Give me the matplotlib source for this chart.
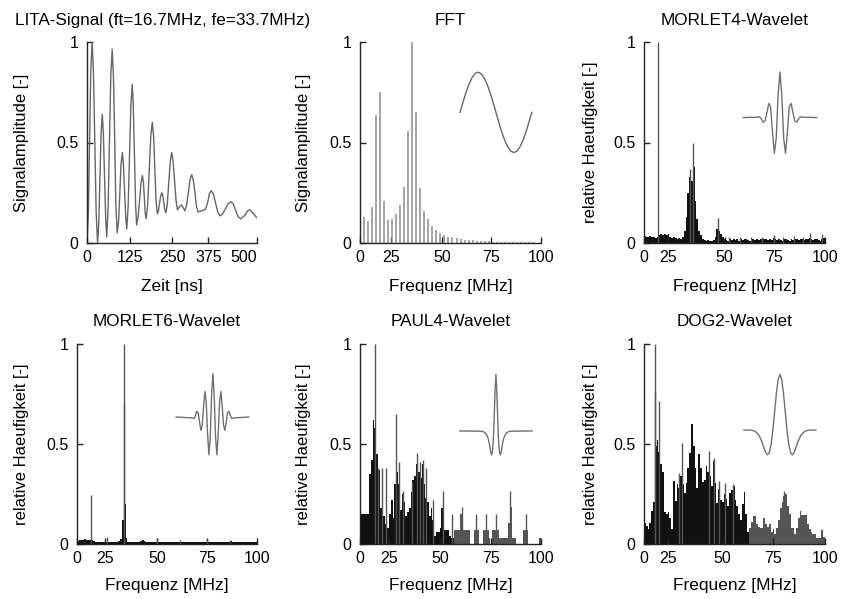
import matplotlib.pyplot as plt
import numpy as np

plt.rcParams['font.family'] = ['Liberation Sans', 'DejaVu Sans']

# --- LITA signal (time in ns, normalised amplitude)
sig_t = [0, 4, 7.5, 11, 15, 19, 23, 27, 31, 34.5, 38, 41.5, 45, 48, 51.5, 55, 58,
         62, 66, 70, 74, 78, 81.5, 85, 89, 93, 96.5, 100, 104, 107, 110.5, 114, 117,
         121, 125, 129, 133, 136, 139.5, 143, 146, 150, 154.5, 159, 163, 166, 168.5,
         171, 174, 178.5, 183, 187.5, 192, 196, 199.5, 203, 207, 210, 213.5, 217, 220,
         223, 226, 229, 232, 236, 240.5, 245, 249, 253, 257.5, 262, 266, 272, 278, 283,
         288, 293, 298, 303, 308, 313, 317.5, 322, 327, 337, 347, 351, 356, 360, 365,
         371.5, 378, 384.5, 391, 399, 407, 415, 423, 430, 437.5, 445, 452, 459, 465.5,
         472, 479, 489.5, 500]
sig_y = [0.00, 0.15, 0.50, 0.85, 1.00, 0.85, 0.50, 0.15, 0.00, 0.09, 0.32, 0.55, 0.64,
         0.55, 0.335, 0.12, 0.03, 0.17, 0.50, 0.83, 0.965, 0.82, 0.51, 0.18, 0.05, 0.11,
         0.25, 0.39, 0.45, 0.395, 0.26, 0.125, 0.07, 0.18, 0.43, 0.685, 0.79, 0.69, 0.44,
         0.19, 0.09, 0.125, 0.21, 0.30, 0.335, 0.30, 0.23, 0.15, 0.12, 0.19, 0.36, 0.53,
         0.60, 0.53, 0.37, 0.21, 0.145, 0.16, 0.20, 0.235, 0.25, 0.235, 0.20, 0.165, 0.15,
         0.19, 0.30, 0.405, 0.45, 0.41, 0.31, 0.21, 0.165, 0.18, 0.19, 0.175, 0.16, 0.19,
         0.25, 0.315, 0.34, 0.31, 0.25, 0.18, 0.155, 0.16, 0.165, 0.18, 0.21, 0.245, 0.26,
         0.245, 0.20, 0.155, 0.135, 0.145, 0.17, 0.195, 0.205, 0.195, 0.16, 0.13, 0.12,
         0.13, 0.14, 0.16, 0.165, 0.145, 0.125]

# --- FFT lines
fft_f = [2.40, 4.61, 6.83, 9.04, 11.25, 13.47, 15.68, 17.90, 20.11, 22.32, 24.54, 26.75,
         28.97, 31.18, 33.39, 35.61, 37.82, 40.04, 42.25, 44.46, 46.68, 48.89, 51.10,
         53.32, 55.53, 57.75, 59.96, 62.17, 64.39, 66.60, 68.82, 71.03, 73.24, 75.46,
         77.67, 79.88, 82.10, 84.31, 86.53, 88.74, 90.95, 93.17, 95.38]
fft_a = [0.13, 0.11, 0.18, 0.635, 0.75, 0.21, 0.115, 0.12, 0.145, 0.19, 0.28, 0.555,
         1.0, 0.65, 0.275, 0.16, 0.12, 0.085, 0.065, 0.05, 0.04, 0.03, 0.028, 0.023,
         0.02, 0.017, 0.015, 0.013, 0.012, 0.01, 0.009, 0.008, 0.007, 0.007, 0.006,
         0.006, 0.005, 0.005, 0.004, 0.004, 0.004, 0.003, 0.003]
sine_x = [55.3, 56.95, 58.6, 60.25, 61.9, 63.55, 65.2, 66.85, 68.5, 70.15, 71.8, 73.45,
          75.1, 76.75, 78.4, 80.05, 81.7, 83.35, 85.0, 86.65, 88.3, 89.95, 91.6, 93.25, 94.9]
sine_y = [0.65, 0.702, 0.75, 0.791, 0.823, 0.843, 0.85, 0.843, 0.823, 0.791, 0.75, 0.702,
          0.65, 0.598, 0.55, 0.509, 0.477, 0.457, 0.45, 0.457, 0.477, 0.509, 0.55, 0.598, 0.65]

# --- MORLET4 histogram (1 MHz bins) + single spikes
m4_h = [0.035, 0.03, 0.03, 0.035, 0.03, 0.03, 0.025, 0.03, 0.04, 0.045, 0.04, 0.045, 0.04,
        0.045, 0.03, 0.025, 0.03, 0.025, 0.02, 0.025, 0.02, 0.03, 0.06, 0.13, 0.25, 0.33,
        0.31, 0.38, 0.21, 0.12, 0.06, 0.04, 0.02, 0.015, 0.01, 0.015, 0.01, 0.012, 0.015,
        0.03, 0.07, 0.06, 0.045, 0.03, 0.02, 0.015, 0.012, 0.018, 0.015, 0.02, 0.015, 0.018,
        0.012, 0.02, 0.015, 0.018, 0.02, 0.015, 0.012, 0.02, 0.018, 0.015, 0.02, 0.015,
        0.018, 0.012, 0.02, 0.018, 0.015, 0.02, 0.015, 0.025, 0.018, 0.015, 0.02, 0.015,
        0.012, 0.018, 0.02, 0.015, 0.012, 0.018, 0.015, 0.02, 0.018, 0.015, 0.02, 0.018,
        0.015, 0.02, 0.018, 0.025, 0.02, 0.015, 0.018, 0.02, 0.015, 0.012, 0.02, 0.025]
m4_sx = [7.75, 25.2, 27.1, 41.0, 47.0, 53.0, 59.0, 65.0, 71.8, 77.0, 83.0, 88.0, 91.7, 98.5]
m4_sy = [1.0, 0.367, 0.496, 0.126, 0.03, 0.03, 0.032, 0.03, 0.04, 0.03, 0.035, 0.03, 0.05, 0.045]
m4_wx = [54.8, 62.78, 63.8, 64.83, 65.86, 66.88, 67.91, 68.94, 69.97, 70.99, 72.02, 73.05,
         74.07, 75.1, 76.13, 77.15, 78.18, 79.21, 80.24, 81.26, 82.29, 83.32, 84.34, 85.37,
         86.4, 87.42, 95.4]
m4_wy = [0.624, 0.626, 0.628, 0.617, 0.601, 0.608, 0.648, 0.694, 0.677, 0.551, 0.446, 0.522,
         0.735, 0.851, 0.735, 0.522, 0.446, 0.551, 0.677, 0.694, 0.648, 0.608, 0.601, 0.617,
         0.628, 0.626, 0.624]

# --- MORLET6
m6_h = [0.015, 0.018, 0.02, 0.022, 0.025, 0.02, 0.018, 0.02, 0.022, 0.015, 0.012, 0.01,
        0.012, 0.01, 0.012, 0.01, 0.012, 0.01, 0.01, 0.012, 0.01, 0.01, 0.012, 0.015, 0.025,
        0.12, 0.20, 0.03, 0.01, 0.01, 0.008, 0.01, 0.008, 0.01, 0.012, 0.015, 0.02, 0.015,
        0.01, 0.008, 0.008, 0.01, 0.008, 0.012, 0.01, 0.008, 0.008, 0.01, 0.008, 0.01,
        0.008, 0.008, 0.01, 0.008, 0.012, 0.008, 0.01, 0.012, 0.008, 0.008, 0.01, 0.008,
        0.012, 0.01, 0.008, 0.008, 0.01, 0.008, 0.008, 0.01, 0.012, 0.01, 0.015, 0.01,
        0.008, 0.008, 0.01, 0.008, 0.01, 0.008, 0.008, 0.01, 0.008, 0.012, 0.01, 0.015,
        0.01, 0.008, 0.008, 0.01, 0.008, 0.008, 0.01, 0.008, 0.008, 0.01, 0.008, 0.008,
        0.01, 0.008]
m6_sx = [7.6, 16.5, 26.3, 26.2, 44.3, 57.3, 72.2, 85.2]
m6_sy = [0.247, 0.035, 1.0, 0.70, 0.03, 0.018, 0.025, 0.02]
m6_wx = [55.1, 64.4, 65.14, 65.88, 66.62, 67.36, 68.1, 68.84, 69.58, 70.32, 71.06, 71.8,
         72.54, 73.28, 74.02, 74.76, 75.5, 76.24, 76.98, 77.72, 78.46, 79.2, 79.94, 80.68,
         81.42, 82.16, 82.9, 83.64, 84.38, 85.12, 85.86, 86.6, 95.4]
m6_wy = [0.635, 0.63, 0.628, 0.645, 0.663, 0.655, 0.609, 0.568, 0.593, 0.688, 0.763, 0.709,
         0.55, 0.446, 0.533, 0.742, 0.852, 0.742, 0.533, 0.446, 0.55, 0.709, 0.763, 0.688,
         0.593, 0.568, 0.609, 0.655, 0.663, 0.645, 0.628, 0.63, 0.635]

# --- PAUL4
p4_h = [0.148, 0.148, 0.148, 0.148, 0.148, 0.35, 0.42, 0.62, 0.58, 0.45, 0.37, 0.18, 0.14,
        0.14, 0.10, 0.08, 0.15, 0.22, 0.13, 0.30, 0.36, 0.30, 0.17, 0.25, 0.21, 0.14, 0.16,
        0.18, 0.26, 0.32, 0.34, 0.40, 0.36, 0.33, 0.40, 0.30, 0.23, 0.21, 0.14, 0.18, 0.12,
        0.04, 0.06, 0.06, 0.08, 0.18, 0.07, 0.07, 0.07, 0.04, 0.03, 0.03, 0.07, 0.07, 0.07,
        0.148, 0.148, 0.07, 0.07, 0.07, 0.07, 0, 0, 0.07, 0.07, 0.07, 0, 0, 0.07, 0.07, 0.07,
        0.03, 0, 0.07, 0.07, 0.07, 0.07, 0.03, 0.03, 0.03, 0.03, 0.03, 0.107, 0.187, 0.03,
        0.03, 0, 0, 0, 0, 0.07, 0.07, 0.07, 0, 0, 0, 0, 0, 0, 0.03]
p4_sx = [8.3, 10.2, 12.0, 14.5, 19.9, 21.3, 24.0, 29.0, 31.5, 33.2, 34.7, 36.7, 40.2, 45.7,
         50.8, 56.2, 64.3, 69.7, 75.3, 83.1, 91.7]
p4_sy = [1.0, 0.38, 0.38, 0.38, 0.65, 0.41, 0.265, 0.31, 0.455, 0.41, 0.42, 0.38, 0.22, 0.265,
         0.148, 0.187, 0.148, 0.148, 0.148, 0.265, 0.148]
p4_wx = [55.1, 67.1, 68.8, 69.9, 70.8, 71.5, 72.1, 72.7, 73.3, 73.75, 74.2, 74.65, 75.1,
         75.55, 76.0, 76.45, 76.9, 77.5, 78.1, 78.7, 79.4, 80.3, 81.4, 83.1, 95.1]
p4_wy = [0.565, 0.564, 0.559, 0.548, 0.528, 0.50, 0.465, 0.445, 0.47, 0.54, 0.65, 0.77,
         0.848, 0.77, 0.65, 0.54, 0.47, 0.445, 0.465, 0.50, 0.528, 0.548, 0.559, 0.564, 0.565]

# --- DOG2
d2_h = [0.107, 0.09, 0.073, 0.107, 0.165, 0.21, 0.49, 0.52, 0.46, 0.40, 0.36, 0.16, 0.15,
        0.16, 0.13, 0.073, 0.315, 0.215, 0.298, 0.28, 0.34, 0.30, 0.257, 0.307, 0.38, 0.457,
        0.60, 0.49, 0.38, 0.28, 0.45, 0.38, 0.31, 0.32, 0.39, 0.36, 0.34, 0.29, 0.415, 0.307,
        0.207, 0.273, 0.22, 0.21, 0.248, 0.223, 0.19, 0.257, 0.27, 0.29, 0.22, 0.19, 0.15,
        0.12, 0.20, 0.26, 0.15, 0.06, 0.08, 0.11, 0.14, 0.14, 0.10, 0.087, 0.08, 0.08, 0.13,
        0.10, 0.087, 0.098, 0.06, 0.075, 0.05, 0.08, 0.12, 0.18, 0.21, 0.24, 0.25, 0.19,
        0.15, 0.08, 0.08, 0.05, 0.08, 0.13, 0.165, 0.143, 0.143, 0.143, 0.10, 0.075, 0.06,
        0.05, 0.05, 0.032, 0.032, 0.032, 0.07, 0.035]
d2_sx = [6.3, 5.9, 8.5, 19.4, 20.9, 35.9, 38.6, 41.6, 44.8, 48.9, 77.5]
d2_sy = [1.0, 0.757, 0.715, 0.357, 0.507, 0.465, 0.43, 0.315, 0.307, 0.30, 0.265]
d2_wx = [55.2, 59.5, 61.45, 63.4, 64.37, 65.35, 66.32, 67.3, 68.27, 69.25, 70.22, 71.2,
         72.17, 73.15, 74.13, 75.1, 76.07, 77.05, 78.03, 79.0, 79.98, 80.95, 81.93, 82.9,
         83.88, 84.85, 85.83, 86.8, 88.75, 90.7, 95.0]
d2_wy = [0.57, 0.569, 0.563, 0.545, 0.528, 0.506, 0.48, 0.457, 0.446, 0.457, 0.498, 0.57,
         0.662, 0.754, 0.823, 0.848, 0.823, 0.754, 0.662, 0.57, 0.498, 0.457, 0.446, 0.457,
         0.48, 0.506, 0.528, 0.545, 0.563, 0.569, 0.57]

freq_labels = ['0', '25', '50', '75', '100']
W, H = 842, 599
fig = plt.figure(figsize=(W / 100, H / 100), dpi=100)


def make_axes(x0, x1, y0, y1):
    return fig.add_axes([x0 / W, (H - y1) / H, (x1 - x0) / W, (y1 - y0) / H])


def style(ax, title, xlabel, ylabel, xmax, xticks, xlabels, ylab_x, xlab_y, tpad, title_x=0.5):
    ax.set_xlim(0, xmax)
    ax.set_ylim(0, 1)
    for s in ['top', 'right']:
        ax.spines[s].set_visible(False)
    for s in ['left', 'bottom']:
        ax.spines[s].set_color('#222222')
        ax.spines[s].set_linewidth(1)
    ax.set_xticks(xticks, xlabels)
    ax.set_yticks([0, 0.5, 1], ['0', '0.5', '1'])
    ax.tick_params(direction='in', length=4, width=1, color='#222222', labelsize=11.5)
    ax.tick_params(axis='x', pad=5)
    ax.tick_params(axis='y', pad=6)
    ax.set_title(title, fontsize=12.3, pad=tpad, x=title_x)
    ax.set_xlabel(xlabel, fontsize=12.5)
    ax.xaxis.set_label_coords(0.5, xlab_y)
    ax.set_ylabel(ylabel, fontsize=12)
    ax.yaxis.set_label_coords(ylab_x, 0.5)


def histo(ax, h, sx, sy, wx, wy, fade_from=None):
    pos = np.arange(len(h))
    cols = ['#111111' if fade_from is None or p < fade_from else '#555555' for p in pos]
    ax.bar(pos, h, width=1, align='edge', color=cols, linewidth=0)
    ax.vlines(sx, 0, sy, color='#555555', lw=1)
    ax.plot(wx, wy, color='#707070', lw=1)


# row 1
ax1 = make_axes(87, 257, 42, 243)
ax1.plot(sig_t, sig_y, color='#666666', lw=1.0)
style(ax1, 'LITA-Signal (ft=16.7MHz, fe=33.7MHz)', 'Zeit [ns]', 'Signalamplitude [-]',
      500, [0, 125, 250, 357, 500], ['0', '125', '250', '375', '500'], -0.341, -0.18, 12.5,
      title_x=0.447)
ax1.get_xticklabels()[-1].set_ha('right')

ax2 = make_axes(360, 541, 42, 243)
ax2.vlines(fft_f, 0, fft_a, color='#8a8a8a', lw=1.1)
ax2.plot(sine_x, sine_y, color='#666666', lw=1.0)
style(ax2, 'FFT', 'Frequenz [MHz]', 'Signalamplitude [-]', 100,
      [0, 17.2, 45.2, 72.3, 100], freq_labels, -0.271, -0.18, 12.5)

ax3 = make_axes(644, 825, 42, 243)
histo(ax3, m4_h, m4_sx, m4_sy, m4_wx, m4_wy)
style(ax3, 'MORLET4-Wavelet', 'Frequenz [MHz]', 'relative Haeufigkeit [-]', 100,
      [0, 13.4, 44.5, 72.0, 100], freq_labels, -0.254, -0.18, 12.5)

# row 2
ax4 = make_axes(77, 257, 344, 544)
histo(ax4, m6_h, m6_sx, m6_sy, m6_wx, m6_wy)
style(ax4, 'MORLET6-Wavelet', 'Frequenz [MHz]', 'relative Haeufigkeit [-]', 100,
      [0, 15.6, 44.6, 72.4, 100], freq_labels, -0.267, -0.172, 13.2)

ax5 = make_axes(360, 541, 344, 544)
histo(ax5, p4_h, p4_sx, p4_sy, p4_wx, p4_wy, fade_from=52)
style(ax5, 'PAUL4-Wavelet', 'Frequenz [MHz]', 'relative Haeufigkeit [-]', 100,
      [0, 16.2, 44.6, 72.2, 100], freq_labels, -0.271, -0.172, 13.2)

ax6 = make_axes(644, 825, 344, 544)
histo(ax6, d2_h, d2_sx, d2_sy, d2_wx, d2_wy, fade_from=58)
style(ax6, 'DOG2-Wavelet', 'Frequenz [MHz]', 'relative Haeufigkeit [-]', 100,
      [0, 13.4, 43.5, 71.0, 100], freq_labels, -0.254, -0.172, 13.2)

fig.savefig('out.png', dpi=100)
